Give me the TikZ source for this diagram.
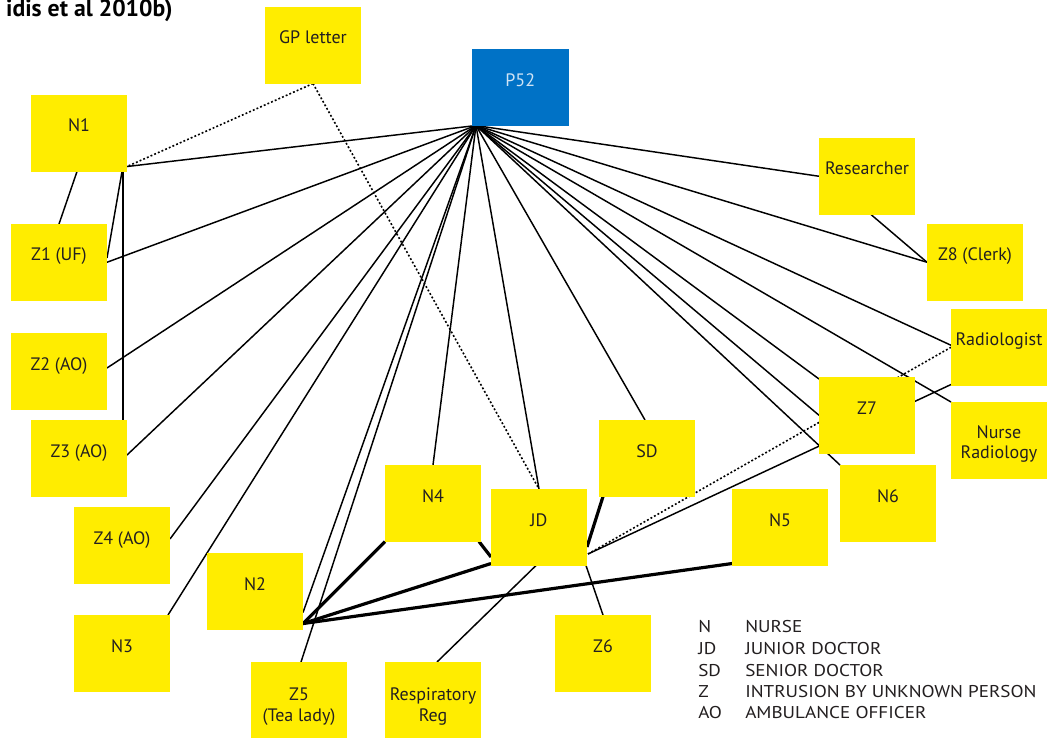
\documentclass[tikz,border=0pt]{standalone}
\usepackage{fontspec}
\setmainfont{PT Sans}
\newfontfamily\legfont[FakeStretch=1.12]{PT Sans}
\usetikzlibrary{calc}
\definecolor{boxy}{HTML}{FFED00}
\definecolor{pblue}{HTML}{0072C6}
\definecolor{ptext}{HTML}{D0E4F5}
\definecolor{ink}{HTML}{231F20}
\begin{document}
\begin{tikzpicture}[x=0.75pt,y=-0.75pt,
  box/.style={fill=boxy, inner sep=0pt, minimum width=71.6pt, minimum height=57pt, anchor=north west},
  pbox/.style={box, fill=pblue, minimum width=72pt},
  lbl/.style={anchor=base, inner sep=0pt, font=\fontsize{13.5}{16}\selectfont, text=ink},
  leg/.style={anchor=base west, inner sep=0pt, font=\legfont\fontsize{12.8}{15}\selectfont, text=ink},
  ttl/.style={anchor=base east, inner sep=0pt, font=\bfseries\fontsize{17.8}{20}\selectfont, text=black},
  ln/.style={line width=1.1pt, draw=black},
  thk/.style={line width=2.4pt, draw=black},
  dotln/.style={line width=1.2pt, draw=black, dash pattern=on 1.4pt off 1.6pt}]
\useasboundingbox (0,0) rectangle (1051,738);
\fill[white] (0,0) rectangle (1051,738);

% title
\node[ttl] (title) at (173,17) {idis et al 2010b)};

% boxes (positions only, filled later on top)
\path
  (265,7)   node[box, fill=none] (gp) {}
  (472,49)  node[pbox, fill=none] (p52) {}
  (31,95)   node[box, fill=none] (n1) {}
  (11,224)  node[box, fill=none] (z1) {}
  (11,333)  node[box, fill=none] (z2) {}
  (31,420)  node[box, fill=none] (z3) {}
  (74,507)  node[box, fill=none] (z4) {}
  (74,615)  node[box, fill=none] (n3) {}
  (207,553) node[box, fill=none] (n2) {}
  (251,662) node[box, fill=none] (z5) {}
  (385,662) node[box, fill=none] (resp) {}
  (385,465) node[box, fill=none] (n4) {}
  (491,489) node[box, fill=none] (jd) {}
  (555,615) node[box, fill=none] (z6) {}
  (599,420) node[box, fill=none] (sd) {}
  (732,489) node[box, fill=none] (n5) {}
  (819,377) node[box, fill=none] (z7) {}
  (951,309) node[box, fill=none] (rad) {}
  (951,402) node[box, fill=none] (nr) {}
  (840,465) node[box, fill=none] (n6) {}
  (819,138) node[box, fill=none] (res) {}
  (927,224) node[box, fill=none] (z8) {};

\coordinate (hub) at ($(p52.south west)+(4,0)$);
\coordinate (n1c) at ($(n1.south east)+(0,-5)$);
\coordinate (n2c) at ($(n2.south east)+(0,-6)$);
\coordinate (jdr) at ($(jd.north east)+(1,65)$);

% connectors from P52
\draw[ln] (hub) -- (n1c);
\draw[ln] (hub) -- (z1.east);
\draw[ln] (hub) -- ($(z2.north east)+(0,35)$);
\draw[ln] (hub) -- ($(z3.north east)+(0,35)$);
\draw[ln] (hub) -- ($(z4.north east)+(0,32)$);
\draw[ln] (hub) -- ($(n3.north east)+(-2,0)$);
\draw[ln] (hub) -- ($(n2.south east)+(0,-17)$);
\draw[ln] (hub) -- ($(z5.north)+(2,0)$);
\draw[ln] (hub) -- (n4.north);
\draw[ln] (hub) -- (jd.north);
\draw[ln] (hub) -- ($(sd.north)+(-2,0)$);
\draw[ln] (hub) -- (res.west);
\draw[ln] (hub) -- (z8.west);
\draw[ln] (hub) -- ($(rad.west)+(0,-2)$);
\draw[ln] (hub) -- (nr.north west);
\draw[ln] (hub) -- ($(z7.north west)+(0,2)$);
\draw[ln] (hub) -- (z7.west);
\draw[ln] (hub) -- (n6.north west);

% other connectors
\draw[dotln] (gp.south) -- (n1c);
\draw[dotln] (gp.south) -- (jd.north);
\draw[ln] ($(n1.south)+(-2,0)$) -- (z1.north);
\draw[ln] ($(n1.south east)+(-5,0)$) -- ($(z1.north east)+(0,34)$);
\draw[ln] ($(n1.south east)+(-4,0)$) -- ($(z3.north east)+(-4,0)$);
\draw[ln] ($(res.south)+(4,0)$) -- (z8.west);
\draw[ln] ($(jd.south)+(-3,0)$) -- ($(resp.north)+(4,0)$);
\draw[ln] ($(jd.south east)+(-1,0)$) -- (z6.north);
\draw[ln] (jdr) -- ($(rad.south west)+(0,-1)$);
\draw[dotln] (jdr) -- (rad.west);
\draw[thk] ($(jd.north east)+(0,58)$) -- ($(sd.south west)+(4,0)$);
\draw[thk] ($(n4.south east)+(-2,0)$) -- ($(jd.north west)+(0,68)$);
\draw[thk] (n4.south west) -- (n2c);
\draw[thk] ($(jd.south west)+(0,-2)$) -- (n2c);
\draw[thk] ($(n5.south west)+(0,-2)$) -- (n2c);

% boxes on top
\foreach \b in {gp,n1,z1,z2,z3,z4,n3,n2,z5,resp,n4,jd,z6,sd,n5,z7,rad,nr,n6,res,z8}
  \fill[boxy] (\b.north west) rectangle (\b.south east);
\fill[pblue] (p52.north west) rectangle (p52.south east);

% labels
\node[lbl] (gpt) at ($(gp.north)+(0,37)$) {GP letter};
\node[lbl, text=ptext] (p52t) at ($(p52.north)+(0,37.5)$) {P52};
\node[lbl] (n1t) at ($(n1.north)+(0,37)$) {N1};
\node[lbl] (z1t) at ($(z1.north)+(0,37)$) {Z1 (UF)};
\node[lbl] (z2t) at ($(z2.north)+(0,37)$) {Z2 (AO)};
\node[lbl] (z3t) at ($(z3.north)+(0,37)$) {Z3 (AO)};
\node[lbl] (z4t) at ($(z4.north)+(0,37)$) {Z4 (AO)};
\node[lbl] (n3t) at ($(n3.north)+(0,37)$) {N3};
\node[lbl] (n2t) at ($(n2.north)+(0,37)$) {N2};
\node[lbl] (z5t) at ($(z5.north)+(0,38)$) {Z5};
\node[lbl] (z5u) at ($(z5.north)+(0,59)$) {(Tea lady)};
\node[lbl] (respt) at ($(resp.north)+(0,38)$) {Respiratory};
\node[lbl] (respu) at ($(resp.north)+(0,59)$) {Reg};
\node[lbl] (n4t) at ($(n4.north)+(0,37)$) {N4};
\node[lbl] (jdt) at ($(jd.north)+(0,37)$) {JD};
\node[lbl] (z6t) at ($(z6.north)+(0,37)$) {Z6};
\node[lbl] (sdt) at ($(sd.north)+(0,37)$) {SD};
\node[lbl] (n5t) at ($(n5.north)+(0,37)$) {N5};
\node[lbl] (z7t) at ($(z7.north)+(0,37)$) {Z7};
\node[lbl] (radt) at ($(rad.north)+(0,37)$) {Radiologist};
\node[lbl] (nrt) at ($(nr.north)+(0,36)$) {Nurse};
\node[lbl] (nru) at ($(nr.north)+(0,57)$) {Radiology};
\node[lbl] (n6t) at ($(n6.north)+(0,37)$) {N6};
\node[lbl] (rest) at ($(res.north)+(0,37)$) {Researcher};
\node[lbl] (z8t) at ($(z8.north)+(0,37)$) {Z8 (Clerk)};

% legend
\node[leg] (la1) at (698,632) {N};
\node[leg] (lb1) at (745,632) {NURSE};
\node[leg] (la2) at (698,654) {JD};
\node[leg] (lb2) at (745,654) {JUNIOR DOCTOR};
\node[leg] (la3) at (698,676) {SD};
\node[leg] (lb3) at (745,676) {SENIOR DOCTOR};
\node[leg] (la4) at (698,697) {Z};
\node[leg] (lb4) at (745,697) {INTRUSION BY UNKNOWN PERSON};
\node[leg] (la5) at (698,718) {AO};
\node[leg] (lb5) at (745,718) {AMBULANCE OFFICER};
\end{tikzpicture}
\end{document}
